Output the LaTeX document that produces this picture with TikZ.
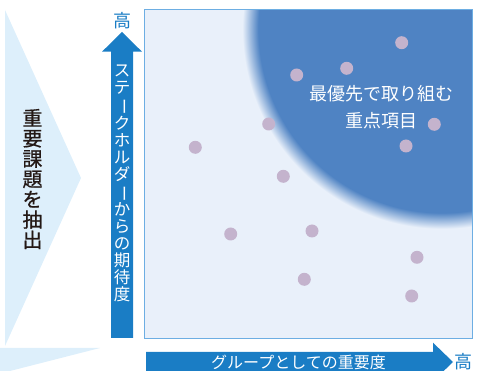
\documentclass[tikz,border=0pt]{standalone}
\usepackage{fontspec}
\setmainfont{Noto Sans CJK JP}
\newfontfamily\jp{Noto Sans CJK JP}
\newfontfamily\jpb[FakeBold=0.7]{Noto Sans CJK JP}
\definecolor{tri}{HTML}{DDEFFB}
\definecolor{plotbg}{HTML}{E9F0FA}
\definecolor{plotline}{HTML}{6DAEE3}
\definecolor{blobblue}{HTML}{4F83C3}
\definecolor{arrowblue}{HTML}{1A7DC5}
\definecolor{dotc}{HTML}{C4B3CD}
\definecolor{ink}{HTML}{231815}
\pgfdeclareradialshading{blob}{\pgfpointorigin}{color(0bp)=(blobblue); color(183bp)=(blobblue); color(199bp)=(plotbg); color(260bp)=(plotbg)}
\newcommand{\vbar}{\rotatebox[origin=c]{-90}{ー}}
\tikzset{
  dotmark/.style={circle, fill=dotc, inner sep=0pt, minimum size=13pt},
  vtext/.style={align=center, inner sep=0pt},
}
\begin{document}
\begin{tikzpicture}[x=1pt,y=-1pt]
\useasboundingbox (0,0) rectangle (477,371);
% chevrons
\fill[tri] (5,10) -- (81,178) -- (5,346) -- cycle;
\fill[tri] (0,348) -- (100,348) -- (10,371) -- (0,371) -- cycle;
\node[vtext, text=ink, font=\jpb\fontsize{20}{20.3}\selectfont] (left) at (32.5,179) {重\\要\\課\\題\\を\\抽\\出};
% plot area
\node[draw=none, fill=plotbg, inner sep=0pt, minimum width=327pt, minimum height=328pt] (plot) at (308.5,174) {};
\begin{scope}
\clip (145,10) rectangle (472,338);
\node[inner sep=0pt] (blobn) at (442,29) {\pgfuseshading{blob}};
\end{scope}
\draw[plotline, line width=1pt] (plot.north west) rectangle (plot.south east);
% dots
\foreach \x/\y [count=\i] in {401.7/42.7, 346.7/68.3, 296.7/75, 434.3/124.3, 406/146, 283.3/176.3, 268.7/124, 195.3/147.3, 230.7/234, 312/231, 304.3/279.3, 417/257.3, 411.7/296}
  \node[dotmark] (d\i) at (\x,\y) {};
\node[text=white, font=\jp\fontsize{18}{27}\selectfont, align=center] (prio) at (381.5,107) {最優先で取り組む\\重点項目};
% vertical arrow
\fill[arrowblue] (111,338) -- (111,51.7) -- (102,51.7) -- (122,32) -- (142,51.7) -- (133,51.7) -- (133,338) -- cycle;
\node[vtext, text=white, font=\jp\fontsize{16.5}{16.95}\selectfont] (ylab) at (122,183.5) {ス\\テ\\\vbar\\ク\\ホ\\ル\\ダ\\\vbar\\か\\ら\\の\\期\\待\\度};
\node[text=arrowblue, font=\jp\fontsize{18}{18}\selectfont, inner sep=0pt] (yhigh) at (122,21) {高};
% horizontal arrow
\fill[arrowblue] (146,352) -- (433,352) -- (433,342.7) -- (453,362) -- (433,381.3) -- (433,372) -- (146,372) -- cycle;
\node[text=white, font=\jp\fontsize{16}{16}\selectfont, inner sep=0pt] (xlab) at (298.5,362) {グループとしての重要度};
\node[text=arrowblue, font=\jp\fontsize{18}{18}\selectfont, inner sep=0pt] (xhigh) at (463,362) {高};
\end{tikzpicture}
\end{document}
